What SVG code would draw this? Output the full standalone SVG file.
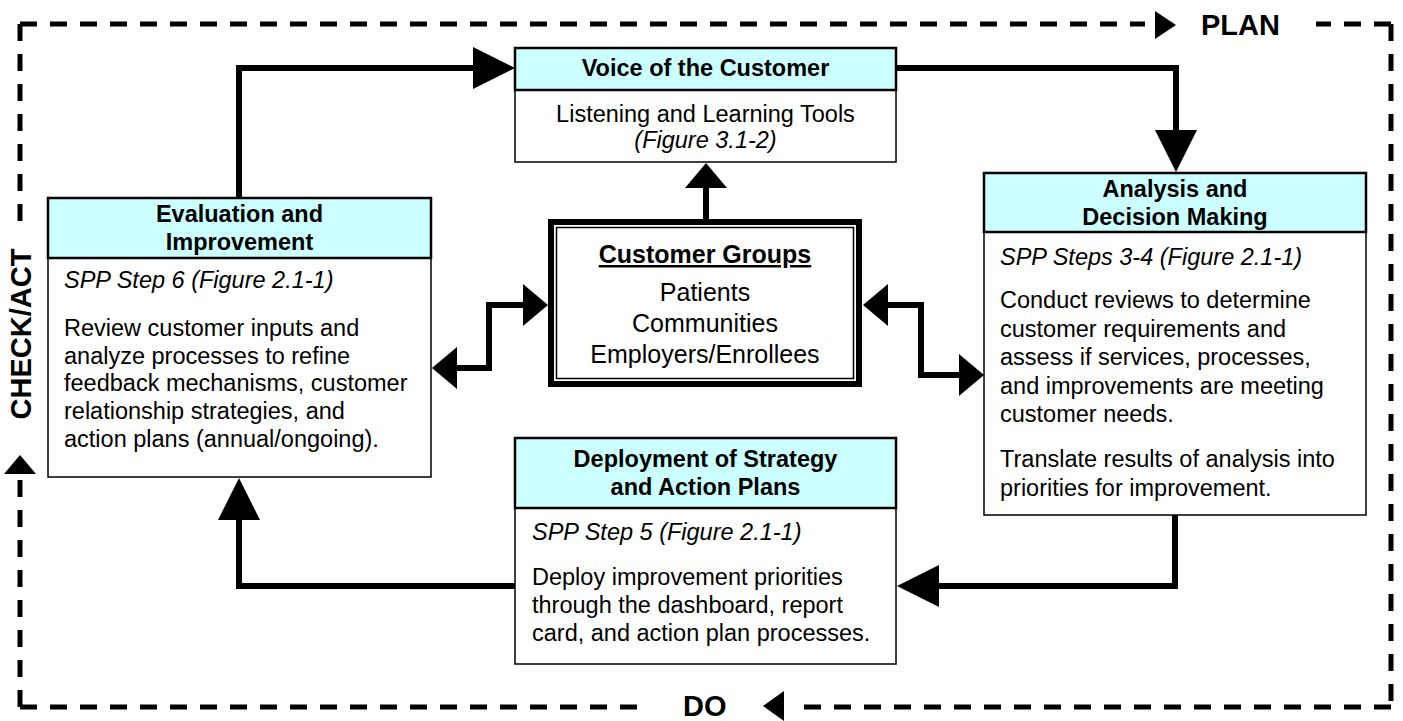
<svg xmlns="http://www.w3.org/2000/svg" width="1403" height="721" viewBox="0 0 1403 721">
  <style>
    .hdr { fill: #ccffff; stroke: #000; stroke-width: 2.5; }
    .body { fill: #fff; stroke: #000; stroke-width: 1.5; }
    .ht { font-family: "Liberation Sans", Arial, sans-serif; font-weight: bold; font-size: 23.5px; text-anchor: middle; fill: #000; }
    .bt { font-family: "Liberation Sans", Arial, sans-serif; font-size: 23.5px; fill: #000; }
    .it { font-style: italic; }
    .cg { font-family: "Liberation Sans", Arial, sans-serif; font-size: 25px; text-anchor: middle; fill: #000; }
    .phase { font-family: "Liberation Sans", Arial, sans-serif; font-weight: bold; font-size: 29px; fill: #000; }
    .dash { fill: none; stroke: #000; stroke-width: 5; stroke-dasharray: 17 13; }
    .conn { fill: none; stroke: #000; stroke-width: 6; stroke-linejoin: miter; stroke-linecap: butt; }
  </style>
  <defs>
    <marker id="head" markerUnits="userSpaceOnUse" viewBox="0 -21 42 42" markerWidth="42" markerHeight="42" refX="0" refY="0" orient="auto-start-reverse" overflow="visible">
      <path d="M0,-21 L42,0 L0,21 Z" fill="#000"/>
    </marker>
    <marker id="headShort" markerUnits="userSpaceOnUse" viewBox="0 -21 25 42" markerWidth="25" markerHeight="42" refX="0" refY="0" orient="auto-start-reverse" overflow="visible">
      <path d="M0,-21 L25,0 L0,21 Z" fill="#000"/>
    </marker>
  </defs>

  <rect width="1403" height="721" fill="#fff"/>

  <!-- PDCA frame -->
  <g id="cycle-frame">
    <path class="dash" d="M20,24 H1145"/>
    <path class="dash" d="M1391,24 H1316"/>
    <path class="dash" d="M1391,24 V707"/>
    <path class="dash" d="M1391,707 H795"/>
    <path class="dash" d="M20,707 H650"/>
    <path class="dash" d="M20,707 V479"/>
    <path class="dash" d="M20,24 V232"/>
    <polygon points="1155,11 1176,25 1155,39" fill="#000"/>
    <polygon points="784,691 763,706 784,721" fill="#000"/>
    <polygon points="4,474 20,455 36,474" fill="#000"/>
    <text class="phase" x="1201" y="35">PLAN</text>
    <text class="phase" x="683" y="716">DO</text>
    <text class="phase" text-anchor="middle" transform="translate(31,334) rotate(-90)">CHECK/ACT</text>
  </g>

  <!-- connectors -->
  <g id="connectors">
    <path class="conn" d="M239,198 V68 H473" marker-end="url(#head)"/>
    <path class="conn" d="M896,68 H1176 V130" marker-end="url(#head)"/>
    <path class="conn" d="M706,219 V188" marker-end="url(#headShort)"/>
    <path class="conn" d="M1175,515 V586 H939" marker-end="url(#head)"/>
    <path class="conn" d="M515,586 H239 V520" marker-end="url(#head)"/>
    <path class="conn" d="M457,368 H489 V305 H523" marker-start="url(#headShort)" marker-end="url(#headShort)"/>
    <path class="conn" d="M888,305 H921 V375 H959" marker-start="url(#headShort)" marker-end="url(#headShort)"/>
  </g>

  <!-- Voice of the Customer -->
  <g id="voice-of-customer">
    <rect class="body" x="515" y="90" width="381" height="72"/>
    <rect class="hdr" x="515" y="48" width="381" height="42"/>
    <text class="ht" x="705.5" y="76">Voice of the Customer</text>
    <text class="bt" text-anchor="middle" x="705.5" y="122">Listening and Learning Tools</text>
    <text class="bt it" text-anchor="middle" x="705.5" y="148">(Figure 3.1-2)</text>
  </g>

  <!-- Evaluation and Improvement -->
  <g id="evaluation-improvement">
    <rect class="body" x="48" y="258" width="383" height="219"/>
    <rect class="hdr" x="48" y="198" width="383" height="60"/>
    <text class="ht" x="239.5" y="222">Evaluation and</text>
    <text class="ht" x="239.5" y="250">Improvement</text>
    <text class="bt it" x="64" y="288">SPP Step 6 (Figure 2.1-1)</text>
    <text class="bt" x="64" y="336">
      <tspan x="64">Review customer inputs and</tspan>
      <tspan x="64" dy="27.7">analyze processes to refine</tspan>
      <tspan x="64" dy="27.7">feedback mechanisms, customer</tspan>
      <tspan x="64" dy="27.7">relationship strategies, and</tspan>
      <tspan x="64" dy="27.7">action plans (annual/ongoing).</tspan>
    </text>
  </g>

  <!-- Customer Groups -->
  <g id="customer-groups">
    <rect x="551" y="222" width="308" height="162" fill="#fff" stroke="#000" stroke-width="6"/>
    <rect x="556.5" y="227.5" width="297" height="151" fill="none" stroke="#000" stroke-width="1.5"/>
    <text class="cg" x="705" y="263" font-weight="bold" text-decoration="underline">Customer Groups</text>
    <text class="cg" x="705" y="300.5">Patients</text>
    <text class="cg" x="705" y="331.5">Communities</text>
    <text class="cg" x="705" y="362.5">Employers/Enrollees</text>
  </g>

  <!-- Analysis and Decision Making -->
  <g id="analysis-decision">
    <rect class="body" x="984" y="232" width="382" height="283"/>
    <rect class="hdr" x="984" y="173" width="382" height="59"/>
    <text class="ht" x="1175" y="197">Analysis and</text>
    <text class="ht" x="1175" y="225">Decision Making</text>
    <text class="bt it" x="1000" y="265">SPP Steps 3-4 (Figure 2.1-1)</text>
    <text class="bt" x="1000" y="308">
      <tspan x="1000">Conduct reviews to determine</tspan>
      <tspan x="1000" dy="28.5">customer requirements and</tspan>
      <tspan x="1000" dy="28.5">assess if services, processes,</tspan>
      <tspan x="1000" dy="28.5">and improvements are meeting</tspan>
      <tspan x="1000" dy="28.5">customer needs.</tspan>
    </text>
    <text class="bt" x="1000" y="467">
      <tspan x="1000">Translate results of analysis into</tspan>
      <tspan x="1000" dy="28.5">priorities for improvement.</tspan>
    </text>
  </g>

  <!-- Deployment of Strategy and Action Plans -->
  <g id="deployment">
    <rect class="body" x="515" y="508" width="381" height="156"/>
    <rect class="hdr" x="515" y="438" width="381" height="70"/>
    <text class="ht" x="705.5" y="467">Deployment of Strategy</text>
    <text class="ht" x="705.5" y="495">and Action Plans</text>
    <text class="bt it" x="532" y="540">SPP Step 5 (Figure 2.1-1)</text>
    <text class="bt" x="532" y="585">
      <tspan x="532">Deploy improvement priorities</tspan>
      <tspan x="532" dy="28">through the dashboard, report</tspan>
      <tspan x="532" dy="28">card, and action plan processes.</tspan>
    </text>
  </g>
</svg>
